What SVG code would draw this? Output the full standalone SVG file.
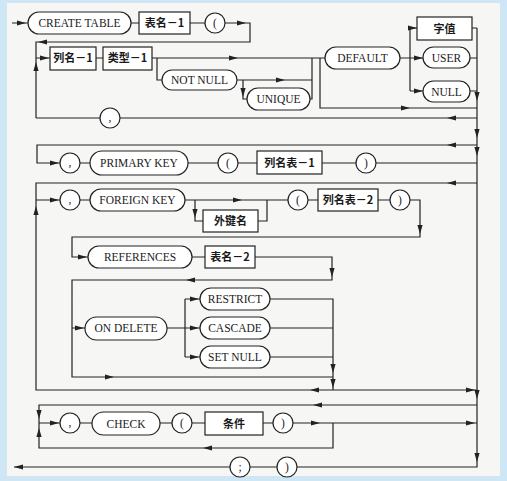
<svg xmlns="http://www.w3.org/2000/svg" xmlns:xlink="http://www.w3.org/1999/xlink" width="507" height="481" viewBox="0 0 507 481">
<style>
.bg{fill:#cfe7f4}
.pg{fill:#f6f6f4}
.n{fill:#fff;stroke:#222;stroke-width:1.2}
.w{fill:none;stroke:#222;stroke-width:1.2}
.t{font-family:'Liberation Serif','DejaVu Serif',serif;font-size:11.5px;fill:#1a1a1a;text-anchor:middle}
.z{font-family:'Noto Sans CJK SC','Noto Sans',sans-serif;font-size:11px;fill:#1a1a1a;text-anchor:middle;font-weight:bold}
.ah{fill:#222}
</style>
<defs>
<path id="a" class="ah" d="M0,0 L-9,-2.6 L-9,2.6 Z"/>
</defs>
<rect class="bg" x="0" y="0" width="507" height="481"/>
<rect class="pg" x="7" y="3" width="493" height="473"/>

<g id="connectors">
<path class="w" d="M12,23 H28 M131,23 H139 M190,23 H205 M225,23 H250 V42 H36 V118"/>
<path class="w" d="M36,58 H50 M96,58 H103 M152,58 H325"/>
<path class="w" d="M157,58 V80 H162 M237,80 H312 M243,80 V99 H247 M310,99 H312 V58"/>
<path class="w" d="M320,58 V108 H477"/>
<path class="w" d="M400,58 H410 M410,28 V91 M410,28 H417 M410,58 H423 M410,91 H423"/>
<path class="w" d="M472,28 H477 M470,58 H477 M470,91 H477"/>
<path class="w" d="M477,28 V467 H297 M277,467 H250 M230,467 H14"/>
<path class="w" d="M477,118 H120 M100,118 H36"/>
<path class="w" d="M477,145 H37 V163 H60 M80,163 H90 M188,163 H218 M238,163 H257 M322,163 H356 M376,163 H477"/>
<path class="w" d="M477,183 H36 V390 H477 M36,200 H60 M80,200 H90 M185,200 H288 M195,200 V221 H203 M258,221 H267 V200 M308,200 H318 M378,200 H390 M410,200 H420 V237 H72 V257 H88"/>
<path class="w" d="M192,257 H205 M255,257 H332 V280 H72 V377 H333 M72,328 H85 M167,328 H185 M185,299 V357 M185,299 H200 M185,328 H200 M185,357 H200 M270,299 H333 V390 M270,328 H333 M270,357 H333"/>
<path class="w" d="M477,405 H39 V448 H333 V423 M39,423 H60 M80,423 H92 M160,423 H172 M192,423 H205 M263,423 H273 M293,423 H477"/>
<use xlink:href="#a" transform="translate(26,23)"/>
<use xlink:href="#a" transform="translate(246,23)"/>
<use xlink:href="#a" transform="translate(38,42) rotate(180)"/>
<use xlink:href="#a" transform="translate(36,62) rotate(-90)"/>
<use xlink:href="#a" transform="translate(49,58)"/>
<use xlink:href="#a" transform="translate(238,58)"/>
<use xlink:href="#a" transform="translate(285,80)"/>
<use xlink:href="#a" transform="translate(243,97) rotate(90)"/>
<use xlink:href="#a" transform="translate(410,108)"/>
<use xlink:href="#a" transform="translate(417,28)"/>
<use xlink:href="#a" transform="translate(423,58)"/>
<use xlink:href="#a" transform="translate(423,91)"/>
<use xlink:href="#a" transform="translate(477,101) rotate(90)"/>
<use xlink:href="#a" transform="translate(447,118) rotate(180)"/>
<use xlink:href="#a" transform="translate(477,138) rotate(90)"/>
<use xlink:href="#a" transform="translate(447,145) rotate(180)"/>
<use xlink:href="#a" transform="translate(477,156) rotate(90)"/>
<use xlink:href="#a" transform="translate(59,163)"/>
<use xlink:href="#a" transform="translate(447,183) rotate(180)"/>
<use xlink:href="#a" transform="translate(59,200)"/>
<use xlink:href="#a" transform="translate(36,206) rotate(-90)"/>
<use xlink:href="#a" transform="translate(242,200)"/>
<use xlink:href="#a" transform="translate(195,218) rotate(90)"/>
<use xlink:href="#a" transform="translate(420,234) rotate(90)"/>
<use xlink:href="#a" transform="translate(87,257)"/>
<use xlink:href="#a" transform="translate(332,277) rotate(90)"/>
<use xlink:href="#a" transform="translate(186,280) rotate(180)"/>
<use xlink:href="#a" transform="translate(84,328)"/>
<use xlink:href="#a" transform="translate(199,299)"/>
<use xlink:href="#a" transform="translate(199,328)"/>
<use xlink:href="#a" transform="translate(199,357)"/>
<use xlink:href="#a" transform="translate(333,373) rotate(90)"/>
<use xlink:href="#a" transform="translate(333,388) rotate(90)"/>
<use xlink:href="#a" transform="translate(114,377)"/>
<use xlink:href="#a" transform="translate(310,390) rotate(180)"/>
<use xlink:href="#a" transform="translate(475,390)"/>
<use xlink:href="#a" transform="translate(477,399) rotate(90)"/>
<use xlink:href="#a" transform="translate(313,405) rotate(180)"/>
<use xlink:href="#a" transform="translate(39,419) rotate(90)"/>
<use xlink:href="#a" transform="translate(39,428) rotate(-90)"/>
<use xlink:href="#a" transform="translate(59,423)"/>
<use xlink:href="#a" transform="translate(320,423)"/>
<use xlink:href="#a" transform="translate(475,423)"/>
<use xlink:href="#a" transform="translate(203,448) rotate(180)"/>
<use xlink:href="#a" transform="translate(477,462) rotate(90)"/>
<use xlink:href="#a" transform="translate(14,467) rotate(180)"/>
</g>

<g id="create-table"><rect class="n" x="28" y="12" width="103" height="22" rx="11"/><text class="t" x="79.5" y="27">CREATE TABLE</text></g>
<g id="table-name-1"><rect class="n" x="139" y="12" width="51" height="22"/><text class="z" x="164.5" y="27">表名－1</text></g>
<g id="lparen-1"><circle class="n" cx="215" cy="23" r="10"/><text class="t" x="215" y="27">(</text></g>
<g id="col-name-1"><rect class="n" x="50" y="47" width="46" height="23"/><text class="z" x="73" y="62">列名－1</text></g>
<g id="type-1"><rect class="n" x="103" y="47" width="49" height="23"/><text class="z" x="127.5" y="62">类型－1</text></g>
<g id="not-null"><rect class="n" x="162" y="70" width="75" height="20" rx="10"/><text class="t" x="199.5" y="84">NOT NULL</text></g>
<g id="unique"><rect class="n" x="247" y="88" width="63" height="22" rx="11"/><text class="t" x="278.5" y="103">UNIQUE</text></g>
<g id="default"><rect class="n" x="325" y="47" width="75" height="22" rx="11"/><text class="t" x="362.5" y="62">DEFAULT</text></g>
<g id="literal"><rect class="n" x="417" y="17" width="55" height="23"/><text class="z" x="444.5" y="32.5">字值</text></g>
<g id="user"><rect class="n" x="423" y="47" width="47" height="21" rx="10.5"/><text class="t" x="446.5" y="61.5">USER</text></g>
<g id="null"><rect class="n" x="423" y="81" width="47" height="21" rx="10.5"/><text class="t" x="446.5" y="95.5">NULL</text></g>
<g id="comma-1"><circle class="n" cx="110" cy="118" r="10"/><text class="t" x="110" y="121">,</text></g>

<g id="comma-2"><circle class="n" cx="70" cy="163" r="10"/><text class="t" x="70" y="166">,</text></g>
<g id="primary-key"><rect class="n" x="90" y="151" width="98" height="24" rx="12"/><text class="t" x="139" y="167">PRIMARY KEY</text></g>
<g id="lparen-2"><circle class="n" cx="228" cy="163" r="10"/><text class="t" x="228" y="167">(</text></g>
<g id="col-list-1"><rect class="n" x="257" y="151" width="65" height="23"/><text class="z" x="289.5" y="166.5">列名表－1</text></g>
<g id="rparen-2"><circle class="n" cx="366" cy="163" r="10"/><text class="t" x="366" y="167">)</text></g>

<g id="comma-3"><circle class="n" cx="70" cy="200" r="10"/><text class="t" x="70" y="203">,</text></g>
<g id="foreign-key"><rect class="n" x="90" y="189" width="95" height="22" rx="11"/><text class="t" x="137.5" y="204">FOREIGN KEY</text></g>
<g id="fk-name"><rect class="n" x="203" y="210" width="55" height="22"/><text class="z" x="230.5" y="225">外键名</text></g>
<g id="lparen-3"><circle class="n" cx="298" cy="200" r="10"/><text class="t" x="298" y="204">(</text></g>
<g id="col-list-2"><rect class="n" x="318" y="189" width="60" height="22"/><text class="z" x="348" y="204">列名表－2</text></g>
<g id="rparen-3"><circle class="n" cx="400" cy="200" r="10"/><text class="t" x="400" y="204">)</text></g>
<g id="references"><rect class="n" x="88" y="246" width="104" height="22" rx="11"/><text class="t" x="140" y="261">REFERENCES</text></g>
<g id="table-name-2"><rect class="n" x="205" y="246" width="50" height="22"/><text class="z" x="230" y="261">表名－2</text></g>
<g id="on-delete"><rect class="n" x="85" y="317" width="82" height="23" rx="11.5"/><text class="t" x="126" y="332">ON DELETE</text></g>
<g id="restrict"><rect class="n" x="200" y="288" width="70" height="22" rx="11"/><text class="t" x="235" y="303">RESTRICT</text></g>
<g id="cascade"><rect class="n" x="200" y="317" width="70" height="22" rx="11"/><text class="t" x="235" y="332">CASCADE</text></g>
<g id="set-null"><rect class="n" x="200" y="346" width="70" height="22" rx="11"/><text class="t" x="235" y="361">SET NULL</text></g>

<g id="comma-4"><circle class="n" cx="70" cy="423" r="10"/><text class="t" x="70" y="426">,</text></g>
<g id="check"><rect class="n" x="92" y="412" width="68" height="23" rx="11.5"/><text class="t" x="126" y="427.5">CHECK</text></g>
<g id="lparen-4"><circle class="n" cx="182" cy="423" r="10"/><text class="t" x="182" y="427">(</text></g>
<g id="condition"><rect class="n" x="205" y="412" width="58" height="23"/><text class="z" x="234" y="427.5">条件</text></g>
<g id="rparen-4"><circle class="n" cx="283" cy="423" r="10"/><text class="t" x="283" y="427">)</text></g>

<g id="semicolon"><circle class="n" cx="240" cy="467" r="10"/><text class="t" x="240" y="471">;</text></g>
<g id="rparen-5"><circle class="n" cx="287" cy="467" r="10"/><text class="t" x="287" y="471">)</text></g>
</svg>
